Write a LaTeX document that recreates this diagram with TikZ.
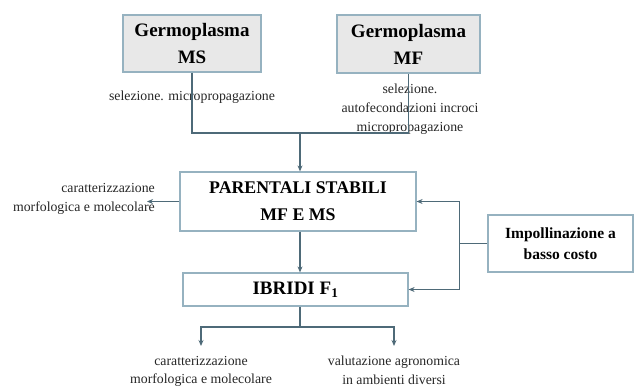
\documentclass[tikz,border=0pt]{standalone}
\usepackage{fontspec}
\setmainfont{Liberation Serif}
\usetikzlibrary{arrows.meta}
\definecolor{boxline}{RGB}{150,178,192}
\definecolor{linkline}{RGB}{78,106,120}
\definecolor{boxgrey}{RGB}{232,232,232}
\begin{document}
\begin{tikzpicture}[%
                x=1pt, y=-1pt,
                greybox/.style={draw=boxline, line width=1.2pt, fill=boxgrey, align=center,
                    font=\fontsize{19}{27}\selectfont\bfseries, inner sep=2pt},
                whitebox/.style={draw=boxline, line width=1.2pt, fill=white, align=center,
                    font=\fontsize{17.8}{27}\selectfont\bfseries, inner sep=2pt},
                note/.style={align=center, inner sep=0pt, text=black!85,
                    font=\fontsize{13.8}{18.5}\selectfont},
                link/.style={draw=linkline, line width=1.5pt},
                arr/.style={link, -{Stealth[length=6pt, width=5pt]}}
            ]
            \useasboundingbox (0,0) rectangle (635,388);
            % boxes
            \node [greybox, minimum width=138pt, minimum height=57pt] (ms) at (192,43.5) {Germoplasma\\MS};
            \node [greybox, minimum width=143pt, minimum height=58pt] (mf) at (408.5,44) {Germoplasma\\MF};
            \node [whitebox, minimum width=236pt, minimum height=59pt] (par) at (298,201.5) {PARENTALI STABILI\\MF E MS};
            \node [whitebox, minimum width=225pt, minimum height=33pt,
                font=\fontsize{19}{24}\selectfont\bfseries] (ibr) at (295.5,289.5) {IBRIDI F\textsubscript{1}};
            \node [whitebox, minimum width=145pt, minimum height=57pt,
                font=\fontsize{15.5}{21}\selectfont\bfseries] (imp) at (560.5,243.5) {Impollinazione a\\basso costo};
            % notes
            \node [note] (selMS) at (192,97) {selezione. micropropagazione};
            \node [note, font=\fontsize{13.8}{19}\selectfont] (selMF) at (410,109) {selezione.\\autofecondazioni incroci\\micropropagazione};
            \node [note, align=right, anchor=east] (carL) at (155,199) {caratterizzazione\\morfologica e molecolare};
            \node [note, anchor=north] (carB) at (201,356) {caratterizzazione\\morfologica e molecolare};
            \node [note, anchor=north] (valB) at (394,356) {valutazione agronomica\\in ambienti diversi};
            % connectors
            \coordinate (join) at (300,133);
            \coordinate (carLtip) at (147,201.5);
            \coordinate (split) at (300,327);
            \draw [link] (ms.south) |- (join) -| (mf.south);
            \draw [arr] (join) -- (join |- par.north);
            \draw [arr] (par.west) -- (carLtip);
            \draw [arr] (join |- par.south) -- (join |- ibr.north);
            \draw [link] (imp.west) -- ++(-28,0) coordinate (bend);
            \draw [arr] (bend) |- (par.east);
            \draw [arr] (bend) |- (ibr.east);
            \draw [link] (split |- ibr.south) -- (split);
            \foreach \mynote in {carB,valB}
                \draw [arr] (split) -| ([yshift=10pt]\mynote.north);
        \end{tikzpicture}
\end{document}
